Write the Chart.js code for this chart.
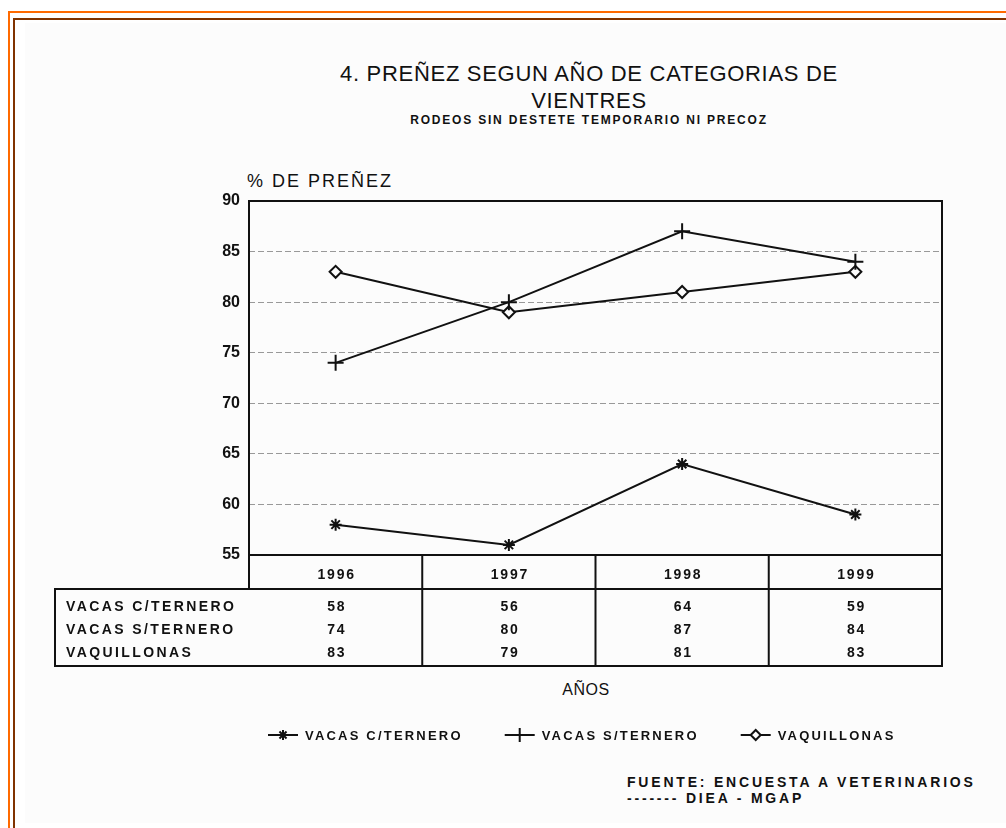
<!DOCTYPE html>
<html>
<head>
<meta charset="utf-8">
<script src="https://cdn.jsdelivr.net/npm/chart.js@4/dist/chart.umd.min.js"></script>
<style>
  body { margin: 0; width: 1006px; height: 828px; overflow: hidden; background: #fff; font-family: "Liberation Sans", Arial, sans-serif; color: #111; }
  #outer { position: absolute; left: 8px; top: 11px; width: 1100px; height: 900px; border-left: 2px solid #ff6a00; border-top: 2px solid #ff6a00; }
  #inner { position: absolute; left: 13px; top: 18px; width: 1100px; height: 900px; border-left: 2px solid #803300; border-top: 2px solid #803300; }
  #paper { position: absolute; left: 25px; top: 23px; width: 990px; height: 800px; background: #fcfcfc; }
  .t { position: absolute; white-space: nowrap; transform: translateX(-50%); }
  #title1 { left: 589px; top: 61px; font-size: 22px; letter-spacing: 0.7px; }
  #title2 { left: 589px; top: 88px; font-size: 22px; letter-spacing: 0.7px; }
  #subtitle { left: 589px; top: 113px; font-size: 12px; font-weight: bold; letter-spacing: 1.8px; }
  #ytitle { position: absolute; left: 247px; top: 171px; font-size: 18px; letter-spacing: 2px; white-space: nowrap; }
  #xtitle { left: 586px; top: 681px; font-size: 16px; letter-spacing: 0.5px; }
  .src { position: absolute; left: 627px; font-size: 14px; line-height: 16px; font-weight: bold; letter-spacing: 2.8px; white-space: nowrap; }
  canvas { position: absolute; left: 0; top: 0; }
</style>
</head>
<body>
<div id="outer"></div>
<div id="inner"></div>
<div id="paper"></div>
<div class="t" id="title1">4. PREÑEZ SEGUN AÑO DE CATEGORIAS DE</div>
<div class="t" id="title2">VIENTRES</div>
<div class="t" id="subtitle">RODEOS SIN DESTETE TEMPORARIO NI PRECOZ</div>
<div id="ytitle">% DE PREÑEZ</div>
<div class="t" id="xtitle">AÑOS</div>
<div class="src" style="top:774px">FUENTE: ENCUESTA A VETERINARIOS</div>
<div class="src" style="top:790px">------- DIEA - MGAP</div>
<canvas id="chart" width="1006" height="828"></canvas>
<script>
// data
const years = ["1996", "1997", "1998", "1999"];
const seriesNames = ["VACAS C/TERNERO", "VACAS S/TERNERO", "VAQUILLONAS"];
const conTernero = [58, 56, 64, 59];
const sinTernero = [74, 80, 87, 84];
const vaquillonas = [83, 79, 81, 83];
const yTicks = [55, 60, 65, 70, 75, 80, 85, 90];

const ink = "#111";
const paper = "#fcfcfc";
const fontFam = '"Liberation Sans", Arial, sans-serif';

// frame, data table and legend under the plot
const tablePlugin = {
  id: "tableLegend",
  afterDraw(chart) {
    const ctx = chart.ctx;
    const ca = chart.chartArea;
    const xs = chart.scales.x;
    const colW = (ca.right - ca.left) / years.length;
    const headTop = ca.bottom, headBot = ca.bottom + 34, rowsBot = headBot + 77;
    const tableLeft = 55;

    ctx.save();
    ctx.strokeStyle = ink;
    ctx.lineWidth = 2;
    ctx.strokeRect(ca.left, ca.top, ca.right - ca.left, ca.bottom - ca.top);
    ctx.strokeRect(ca.left, headTop, ca.right - ca.left, headBot - headTop);
    ctx.strokeRect(tableLeft, headBot, ca.right - tableLeft, rowsBot - headBot);
    for (let i = 1; i < years.length; i++) {
      const x = ca.left + i * colW;
      ctx.beginPath();
      ctx.moveTo(x, headTop);
      ctx.lineTo(x, rowsBot);
      ctx.stroke();
    }

    ctx.fillStyle = ink;
    ctx.font = "bold 14px " + fontFam;
    ctx.letterSpacing = "1.8px";
    ctx.textBaseline = "middle";
    ctx.textAlign = "center";
    years.forEach((y, i) => ctx.fillText(y, xs.getPixelForValue(i) + 1, headTop + 20));

    chart.data.datasets.forEach((ds, r) => {
      const y = headBot + 18 + r * 23;
      ctx.textAlign = "left";
      ctx.letterSpacing = "2.4px";
      ctx.fillText(ds.label, tableLeft + 11, y);
      ctx.textAlign = "center";
      ctx.letterSpacing = "1.5px";
      ds.data.forEach((v, i) => ctx.fillText(String(v), xs.getPixelForValue(i) + 1, y));
    });

    // legend
    let lx = 268;
    const ly = 735;
    ctx.font = "bold 13px " + fontFam;
    ctx.letterSpacing = "2.2px";
    ctx.textAlign = "left";
    chart.data.datasets.forEach(ds => {
      ctx.strokeStyle = ink;
      ctx.lineWidth = 2;
      ctx.beginPath();
      ctx.moveTo(lx, ly);
      ctx.lineTo(lx + 30, ly);
      ctx.stroke();
      ctx.fillStyle = paper;
      Chart.helpers.drawPoint(ctx, {
        pointStyle: ds.pointStyle, radius: ds.pointRadius - 1, rotation: 0,
        borderWidth: 2
      }, lx + 15, ly);
      ctx.fillStyle = ink;
      ctx.fillText(ds.label, lx + 37, ly + 1);
      lx += 37 + ctx.measureText(ds.label).width + 42;
    });
    ctx.restore();
  }
};

const lineStyle = {
  borderColor: ink, backgroundColor: paper, borderWidth: 2,
  pointBorderColor: ink, pointBackgroundColor: paper, pointBorderWidth: 2,
  tension: 0, clip: false
};

new Chart("chart", {
  type: "line",
  data: {
    labels: years,
    datasets: [
      Object.assign({ label: seriesNames[0], data: conTernero, pointStyle: "star", pointRadius: 6 }, lineStyle),
      Object.assign({ label: seriesNames[1], data: sinTernero, pointStyle: "cross", pointRadius: 8 }, lineStyle),
      Object.assign({ label: seriesNames[2], data: vaquillonas, pointStyle: "rectRot", pointRadius: 6 }, lineStyle)
    ]
  },
  options: {
    responsive: false,
    animation: false,
    layout: { padding: { left: 0, top: 201, right: 64, bottom: 273 } },
    plugins: { legend: { display: false }, tooltip: { enabled: false } },
    scales: {
      x: { type: "category", offset: true, display: false },
      y: {
        min: yTicks[0], max: yTicks[yTicks.length - 1],
        afterBuildTicks: s => { s.ticks = yTicks.map(v => ({ value: v })); },
        afterFit: s => { s.width = 249; },
        ticks: { padding: 9, color: ink, font: { family: fontFam, size: 16, weight: "bold" } },
        grid: {
          drawTicks: false, lineWidth: 1,
          color: c => (c.tick.value === 55 || c.tick.value === 90) ? "rgba(0,0,0,0)" : "#999"
        },
        border: { display: false, dash: [6, 3] }
      }
    }
  },
  plugins: [tablePlugin]
});
</script>
</body>
</html>
